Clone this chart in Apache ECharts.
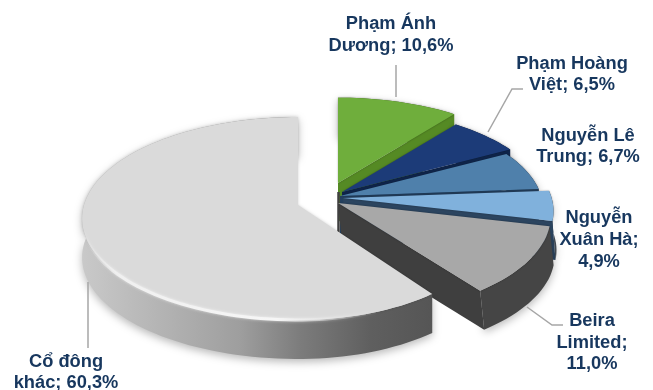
<!DOCTYPE html>
<html>
<head>
<meta charset="utf-8">
<style>html,body{margin:0;padding:0;background:#fff}#chart{width:653px;height:390px}</style>
<script src="https://cdn.jsdelivr.net/npm/echarts@6/dist/echarts.min.js"></script>
</head>
<body>
<div id="chart"></div>
<script>
// Ownership shares, clockwise from twelve o'clock
const holders = ['Phạm Ánh\nDương', 'Phạm Hoàng\nViệt', 'Nguyễn Lê\nTrung', 'Nguyễn\nXuân Hà', 'Beira\nLimited', 'Cổ đông\nkhác'];
const shares = [10.6, 6.5, 6.7, 4.9, 11.0, 60.3];
const labelBreaks = [' ', ' ', ' ', '\n', '\n', ' '];

// Tilted-disc projection
const RX = 214, RY = 99.7, PERSP = 0.133, DEPTH = 39;
const apexes = [[338,183],[342,192],[340,196],[343,198],[338,203],[298,205]];
const radial = [0.97,0.95,0.94,0.975,0.985,1.0];
const wallShift = [0,0,0,3,4,0];
const tops = ['#6fae3c','#1c3b78','#4f80ab','#80b1dc','#a8a8a8','#dadada'];
const cuts = ['#558a24','#10264c','#24405f','#2c4560','#3f3f3f','#8a8a8a'];
const rims = ['#4d7a22','#0e2140','#1d3550','#454d55','#454545','#999999'];
const labelCenters = [[391,35],[572,74.5],[588,146.5],[599,240],[592,342.5],[66,372.5]];
const leaders = [
  [[396,65],[396,97]],
  [[523,89],[512,89],[488,132]],
  null,
  null,
  [[563,325],[552,325],[527,307]],
  [[88,282],[88,348]]
];

function project(i, deg) {
  const a = deg * Math.PI / 180, u = Math.sin(a), v = -Math.cos(a);
  const p = 1 / (1 - PERSP * v), s = radial[i];
  // the large slice tapers slightly where it swings past the front
  const sx = i === 5 && u > 0 ? 0.93 : 1;
  return [apexes[i][0] + RX * u * p * s * sx, apexes[i][1] + RY * v * p * s];
}
function arc(i, a0, a1) {
  const pts = [], n = Math.max(8, Math.ceil((a1 - a0) / 2));
  for (let j = 0; j <= n; j++) pts.push(project(i, a0 + (a1 - a0) * j / n));
  return pts;
}
const total = shares.reduce((a, b) => a + b, 0);

function renderSlice(params, api) {
  const i = params.dataIndex;
  let before = 0;
  for (let j = 0; j < i; j++) before += shares[j];
  const a0 = before / total * 360, a1 = (before + api.value(0)) / total * 360;
  const rim = arc(i, a0, a1), apex = apexes[i];
  const last = rim[rim.length - 1];
  const isMain = i === 5;
  const down = p => [p[0] + wallShift[i], p[1] + DEPTH];
  const children = [];

  // outer wall
  const wallFill = isMain
    ? new echarts.graphic.LinearGradient(82, 0, 434, 0, [
        {offset:0,color:'#c9c9c9'},{offset:0.45,color:'#9e9e9e'},{offset:0.62,color:'#7c7c7c'},
        {offset:0.82,color:'#5f5f5f'},{offset:1,color:'#555555'}], true)
    : rims[i];
  children.push({type:'polygon', shape:{points: rim.concat(rim.map(down).reverse())},
    style:{fill:wallFill, shadowBlur:8, shadowColor:'rgba(0,0,0,0.28)', shadowOffsetY:3}});
  // cut face along the closing edge
  if (!isMain) {
    children.push({type:'polygon', shape:{points:[apex, last, down(last), down(apex)]},
      style:{fill:cuts[i]}});
  }
  // dark post where the detached slices meet at the hub
  if (i === 4) {
    children.push({type:'polyline', shape:{points:[[338.5, 192], [338.5, 234]]},
      style:{fill:'none', stroke:'#3f3f3f', lineWidth:2.5}});
  }
  // top face
  children.push({type:'polygon', shape:{points:[apex].concat(rim)},
    style:{fill:tops[i], shadowBlur: isMain ? 3 : 2, shadowColor: isMain ? 'rgba(0,0,0,0.18)' : 'rgba(0,0,0,0.35)'}});
  // bevel highlight along the front rim of the large slice
  if (isMain) {
    const front = rim.filter((p, idx) => { const ang = a0 + (a1 - a0) * idx / (rim.length - 1); return ang > 150 && ang < 272; });
    children.push({type:'polyline', shape:{points:front},
      style:{fill:'none', lineWidth:3, shadowBlur:3, shadowColor:'rgba(255,255,255,0.7)',
        stroke:new echarts.graphic.LinearGradient(84, 0, 380, 0, [
          {offset:0,color:'rgba(240,240,240,0)'},{offset:0.12,color:'#f0f0f0'},{offset:0.65,color:'#f6f6f6'},
          {offset:1,color:'rgba(215,215,215,0)'}], true)}});
  }
  // leader line and label
  if (leaders[i]) {
    children.push({type:'polyline', shape:{points:leaders[i]},
      style:{fill:'none', stroke:'#a6a6a6', lineWidth:1.5}});
  }
  const pct = api.value(0).toFixed(1).replace('.', ',') + '%';
  children.push({type:'text', x:labelCenters[i][0], y:labelCenters[i][1], z2:10,
    style:{text: holders[i] + ';' + labelBreaks[i] + pct, fill:'#17375e', align:'center', verticalAlign:'middle',
      font:'bold 18.3px "Liberation Sans", Arial, sans-serif', lineHeight:21.7}});
  return {type:'group', children};
}

const chart = echarts.init(document.getElementById('chart'), null, {renderer:'canvas'});
chart.setOption({
  animation:false,
  backgroundColor:'#ffffff',
  series:[{type:'custom', coordinateSystem:'none', renderItem:renderSlice, data:shares.map(v => [v]), silent:true}]
});
</script>
</body>
</html>
